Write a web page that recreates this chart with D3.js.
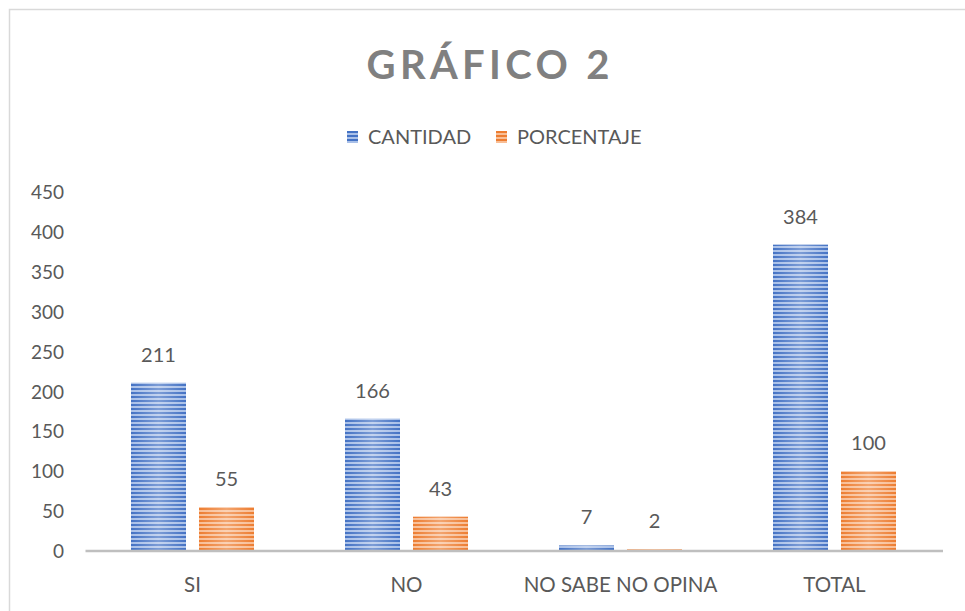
<!DOCTYPE html>
<html>
<head>
<meta charset="utf-8">
<script src="https://cdn.jsdelivr.net/npm/d3@7"></script>
<style>
  body { margin: 0; background: #fff; }
  text { font-family: Lato, "Open Sans", sans-serif; fill: #595959; }
</style>
</head>
<body>
<div id="chart"></div>
<script>
// data
var categories = ["SI", "NO", "NO SABE NO OPINA", "TOTAL"];
var seriesNames = ["CANTIDAD", "PORCENTAJE"];
var cantidad = [211, 166, 7, 384];
var porcentaje = [55, 43, 2, 100];
var yTicks = [0, 50, 100, 150, 200, 250, 300, 350, 400, 450];

var width = 965, height = 611;
var colors = {
  CANTIDAD: ["#4472C4", "#A9C0E8"],
  PORCENTAJE: ["#ED7D31", "#F8BE96"]
};

var svg = d3.select("#chart").append("svg")
  .attr("width", width)
  .attr("height", height);

// outer frame
svg.append("rect")
  .attr("x", 9.5).attr("y", 9.5)
  .attr("width", 970).attr("height", 620)
  .attr("fill", "none")
  .attr("stroke", "#D9D9D9")
  .attr("stroke-width", 1.5);

var defs = svg.append("defs");
seriesNames.forEach(function(s) {
  var pat = defs.append("pattern")
    .attr("id", "stripe-" + s)
    .attr("patternUnits", "userSpaceOnUse")
    .attr("width", 8).attr("height", 4);
  pat.append("rect").attr("width", 8).attr("height", 4).attr("fill", colors[s][1]);
  pat.append("rect").attr("width", 8).attr("height", 2).attr("fill", colors[s][0]);
});
// lighter centre across each bar
var grad = defs.append("linearGradient").attr("id", "shine")
  .attr("x1", "0").attr("x2", "1").attr("y1", "0").attr("y2", "0");
grad.append("stop").attr("offset", "0%").attr("stop-color", "#fff").attr("stop-opacity", 0.0);
grad.append("stop").attr("offset", "50%").attr("stop-color", "#fff").attr("stop-opacity", 0.3);
grad.append("stop").attr("offset", "100%").attr("stop-color", "#fff").attr("stop-opacity", 0.0);

// title
svg.append("text")
  .attr("x", 488).attr("y", 79)
  .attr("text-anchor", "middle")
  .attr("textLength", 243)
  .attr("lengthAdjust", "spacing")
  .style("font-family", "Lato, sans-serif")
  .style("font-size", "40px")
  .style("font-weight", "bold")
  .style("fill", "#808080")
  .text("GRÁFICO 2");

// legend
var legendX = [347, 496];
seriesNames.forEach(function(s, i) {
  var g = svg.append("g").attr("transform", "translate(" + legendX[i] + ",131)");
  g.append("rect").attr("width", 11).attr("height", 12).attr("fill", "url(#stripe-" + s + ")");
  g.append("text").attr("x", 21).attr("y", 13)
    .style("font-size", "20px")
    .text(s);
});

// scales
var x = d3.scaleBand()
  .domain(categories)
  .range([85.5, 941.5]);

var xInner = d3.scaleBand()
  .domain(seriesNames)
  .range([45.5, 45.5 + 123])
  .paddingInner(13 / 123 * 2 / (1 + 13 / 123));

var y = d3.scaleLinear()
  .domain([0, 450])
  .range([551, 192]);

// y axis labels only
var yAxis = d3.axisLeft(y).tickValues(yTicks).tickSize(0).tickPadding(0);
var gy = svg.append("g")
  .attr("transform", "translate(64,0)")
  .call(yAxis);
gy.select(".domain").remove();
gy.selectAll("text")
  .attr("dy", "0.35em")
  .style("font-size", "19px")
  .style("font-family", "Lato, sans-serif")
  .attr("fill", "#595959");

// bars
var rows = categories.map(function(c, i) {
  return { cat: c, values: [
    { s: "CANTIDAD", v: cantidad[i] },
    { s: "PORCENTAJE", v: porcentaje[i] }
  ]};
});

var groups = svg.append("g").selectAll("g")
  .data(rows)
  .enter().append("g")
  .attr("transform", function(d) { return "translate(" + x(d.cat) + ",0)"; });

var bar = groups.selectAll("g.bar")
  .data(function(d) { return d.values; })
  .enter().append("g").attr("class", "bar");

bar.append("rect")
  .attr("x", function(d) { return xInner(d.s); })
  .attr("y", function(d) { return y(d.v); })
  .attr("width", xInner.bandwidth())
  .attr("height", function(d) { return y(0) - y(d.v); })
  .attr("fill", function(d) { return "url(#stripe-" + d.s + ")"; });

bar.append("rect")
  .attr("x", function(d) { return xInner(d.s); })
  .attr("y", function(d) { return y(d.v); })
  .attr("width", xInner.bandwidth())
  .attr("height", function(d) { return y(0) - y(d.v); })
  .attr("fill", "url(#shine)");

bar.append("text")
  .attr("x", function(d) { return xInner(d.s) + xInner.bandwidth() / 2; })
  .attr("y", function(d) { return y(d.v) - 21; })
  .attr("text-anchor", "middle")
  .style("font-size", "20px")
  .text(function(d) { return d.v; });

// x axis
var xAxis = d3.axisBottom(x).tickSize(0).tickPadding(0);
var gx = svg.append("g")
  .attr("transform", "translate(0,551)")
  .call(xAxis);
gx.select(".domain")
  .attr("stroke", "#BFBFBF")
  .attr("stroke-width", 2.5)
  .attr("d", "M85.5,0H943");
gx.selectAll("text")
  .attr("y", 41)
  .attr("dy", 0)
  .style("font-size", "20.5px")
  .style("font-family", "Lato, sans-serif")
  .attr("fill", "#595959");
</script>
</body>
</html>
